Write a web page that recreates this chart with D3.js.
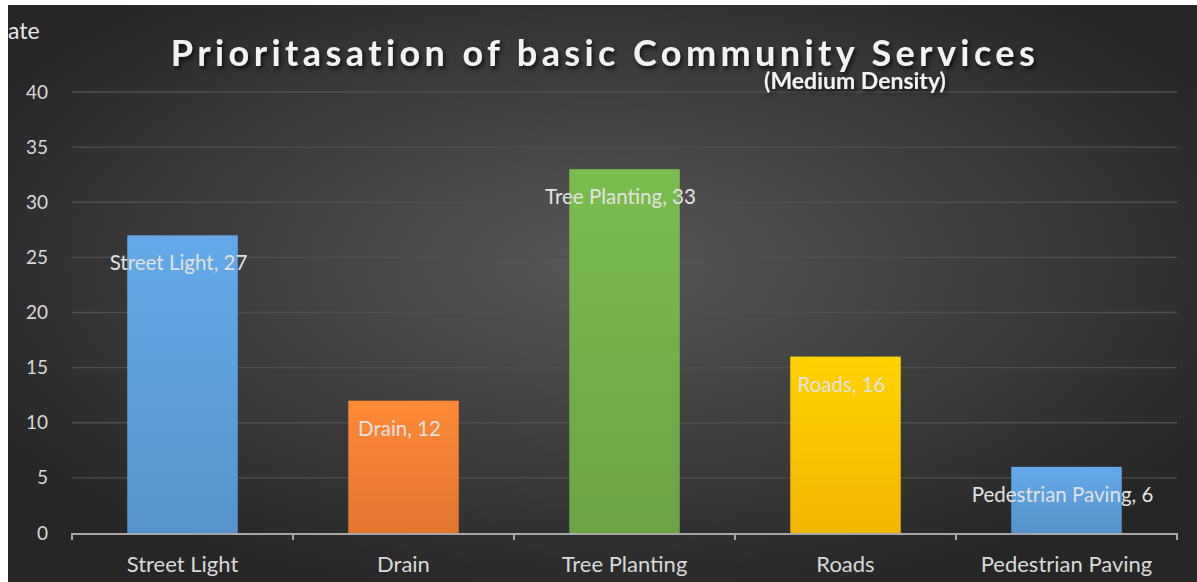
<!DOCTYPE html>
<html>
<head>
<meta charset="utf-8">
<script src="https://cdn.jsdelivr.net/npm/d3@7"></script>
<style>
  html, body { margin: 0; padding: 0; background: #fff; }
  svg { display: block; }
  text { font-family: Lato, "Open Sans", "Liberation Sans", sans-serif; }
</style>
</head>
<body>
<svg id="chart" width="1197" height="582"></svg>
<script>
// Chart data
const categories = ["Street Light", "Drain", "Tree Planting", "Roads", "Pedestrian Paving"];
const values = [27, 12, 33, 16, 6];
const barColors = ["#5b9bd5", "#ed7d31", "#70ad47", "#ffc000", "#5b9bd5"];
const yTicks = [0, 5, 10, 15, 20, 25, 30, 35, 40];
const titleText = "Prioritasation of basic Community Services";
const subtitleText = "(Medium Density)";
const yAxisTitle = "ate";

const W = 1197, H = 582;
const svg = d3.select("#chart");
const defs = svg.append("defs");

// Dark radial background
const bg = defs.append("radialGradient").attr("id", "bg")
  .attr("cx", "50%").attr("cy", "45%").attr("r", "60%");
bg.append("stop").attr("offset", "0%").attr("stop-color", "#585858");
bg.append("stop").attr("offset", "100%").attr("stop-color", "#262626");

// Per-bar vertical gradient (lighter at the top)
barColors.forEach((c, i) => {
  const g = defs.append("linearGradient").attr("id", "bar" + i)
    .attr("x1", 0).attr("y1", 0).attr("x2", 0).attr("y2", 1);
  g.append("stop").attr("offset", "0%").attr("stop-color", d3.color(c).brighter(0.25));
  g.append("stop").attr("offset", "100%").attr("stop-color", d3.color(c).darker(0.15));
});

const shadow = defs.append("filter").attr("id", "tshadow")
  .attr("x", "-5%").attr("y", "-20%").attr("width", "110%").attr("height", "150%");
shadow.append("feDropShadow").attr("dx", 2).attr("dy", 3).attr("stdDeviation", 2)
  .attr("flood-color", "#000").attr("flood-opacity", 0.7);

const frameLeft = 8, frameTop = 5;
svg.append("rect").attr("x", frameLeft).attr("y", frameTop)
  .attr("width", W - frameLeft).attr("height", H - frameTop).attr("fill", "url(#bg)");

const plot = { left: 72, right: 1177, top: 92, bottom: 533 };

const x = d3.scaleBand().domain(categories).range([plot.left, plot.right]).paddingInner(0.5).paddingOuter(0.25);
const xOuter = d3.scaleBand().domain(categories).range([plot.left, plot.right]);
const y = d3.scaleLinear().domain([0, 40]).range([plot.bottom, plot.top]);

// Horizontal gridlines
svg.append("g").selectAll("line").data(yTicks.filter(t => t > 0)).join("line")
  .attr("x1", plot.left).attr("x2", plot.right)
  .attr("y1", d => y(d)).attr("y2", d => y(d))
  .attr("stroke", "#4f4f4f").attr("stroke-width", 1.3);

// Y axis labels
const yAxis = svg.append("g").attr("transform", `translate(${plot.left},0)`)
  .call(d3.axisLeft(y).tickValues(yTicks).tickSize(0).tickPadding(24));
yAxis.select(".domain").remove();
yAxis.selectAll("text").attr("fill", "#d9d9d9").attr("font-size", 19).attr("font-family", "Lato, 'Open Sans', sans-serif");

// Bars
svg.append("g").selectAll("rect").data(values).join("rect")
  .attr("x", (d, i) => x(categories[i]))
  .attr("width", x.bandwidth())
  .attr("y", d => y(d))
  .attr("height", d => y(0) - y(d))
  .attr("fill", (d, i) => `url(#bar${i})`);

// X axis with ticks at band boundaries
const axisG = svg.append("g");
axisG.append("line").attr("x1", plot.left).attr("x2", plot.right)
  .attr("y1", plot.bottom + 1).attr("y2", plot.bottom + 1)
  .attr("stroke", "#a6a6a6").attr("stroke-width", 2);
const bounds = categories.map(c => xOuter(c)).concat([plot.right]);
axisG.selectAll("line.tick").data(bounds).join("line").attr("class", "tick")
  .attr("x1", d => d).attr("x2", d => d)
  .attr("y1", plot.bottom).attr("y2", plot.bottom + 7)
  .attr("stroke", "#a6a6a6").attr("stroke-width", 2);
axisG.selectAll("text").data(categories).join("text")
  .attr("x", d => xOuter(d) + xOuter.bandwidth() / 2)
  .attr("y", 572)
  .attr("text-anchor", "middle")
  .attr("fill", "#d9d9d9").attr("font-size", 22)
  .text(d => d);

// Data labels (inside end)
svg.append("g").selectAll("text").data(values).join("text")
  .attr("x", (d, i) => x(categories[i]) + x.bandwidth() / 2 - 4)
  .attr("y", d => y(d) + 35)
  .attr("text-anchor", "middle")
  .attr("fill", "#e2e2e2").attr("font-size", 20.5)
  .text((d, i) => `${categories[i]}, ${d}`);

// Titles
svg.append("text").attr("x", 605).attr("y", 66).attr("text-anchor", "middle")
  .attr("fill", "#f2f2f2").attr("font-size", 36).attr("font-weight", "bold")
  .attr("letter-spacing", 4.4).attr("filter", "url(#tshadow)")
  .text(titleText);
svg.append("text").attr("x", 855).attr("y", 89).attr("text-anchor", "middle")
  .attr("fill", "#f2f2f2").attr("font-size", 23).attr("font-weight", "bold")
  .attr("filter", "url(#tshadow)")
  .text(subtitleText);

// Axis title
svg.append("text").attr("x", 8).attr("y", 39)
  .attr("fill", "#e6e6e6").attr("font-size", 23)
  .text(yAxisTitle);

// White frame margins drawn on top
svg.append("rect").attr("x", 0).attr("y", 0).attr("width", frameLeft).attr("height", H).attr("fill", "#fff");
svg.append("rect").attr("x", 0).attr("y", 0).attr("width", W).attr("height", frameTop).attr("fill", "#fff");
</script>
</body>
</html>
